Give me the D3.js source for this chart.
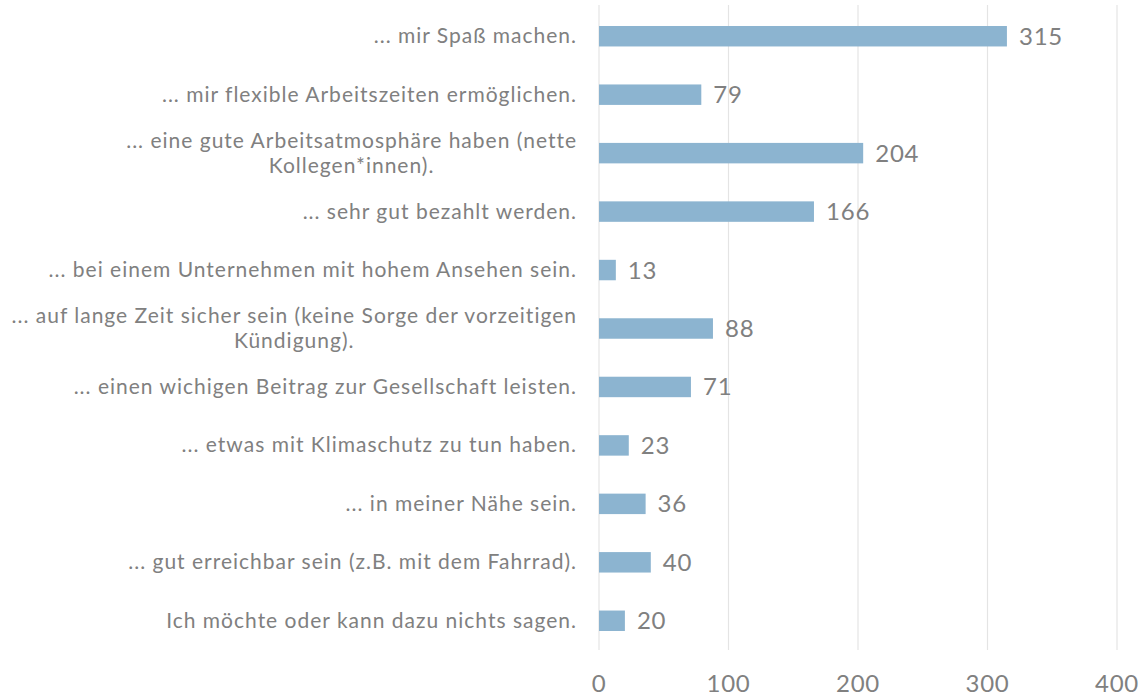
<!DOCTYPE html>
<html>
<head>
<meta charset="utf-8">
<script src="https://cdn.jsdelivr.net/npm/d3@7"></script>
<style>
  body { margin: 0; background: #fff; }
  text { font-family: Lato, sans-serif; fill: #808080; }
</style>
</head>
<body>
<script>
var categories = [
  ['... mir Spaß machen.'],
  ['... mir flexible Arbeitszeiten ermöglichen.'],
  ['... eine gute Arbeitsatmosphäre haben (nette', 'Kollegen*innen).'],
  ['... sehr gut bezahlt werden.'],
  ['... bei einem Unternehmen mit hohem Ansehen sein.'],
  ['... auf lange Zeit sicher sein (keine Sorge der vorzeitigen', 'Kündigung).'],
  ['... einen wichigen Beitrag zur Gesellschaft leisten.'],
  ['... etwas mit Klimaschutz zu tun haben.'],
  ['... in meiner Nähe sein.'],
  ['... gut erreichbar sein (z.B. mit dem Fahrrad).'],
  ['Ich möchte oder kann dazu nichts sagen.']
]
var values = [315, 79, 204, 166, 13, 88, 71, 23, 36, 40, 20]
var ticks = [0, 100, 200, 300, 400]

var width = 1147
var height = 697
var plotLeft = 599, plotRight = 1117, plotTop = 7, plotBottom = 650

var svg = d3.select('body').append('svg')
  .attr('width', width)
  .attr('height', height)

var x = d3.scaleLinear().domain([0, 400]).range([plotLeft, plotRight])
var y = d3.scaleBand().domain(d3.range(categories.length))
  .range([plotTop, plotBottom]).paddingInner(0.65).paddingOuter(0.325)

// gridlines
svg.selectAll('.grid')
  .data(ticks)
  .enter().append('line')
  .attr('x1', d => x(d)).attr('x2', d => x(d))
  .attr('y1', 5).attr('y2', plotBottom)
  .attr('stroke', '#e4e4e4')
  .attr('stroke-width', 1.2)

// tick labels
svg.selectAll('.tick')
  .data(ticks)
  .enter().append('text')
  .attr('x', d => x(d))
  .attr('y', 692)
  .attr('text-anchor', 'middle')
  .style('font-size', '24px')
  .style('letter-spacing', '0.8px')
  .text(d => d)

// bars
svg.selectAll('.bar')
  .data(values)
  .enter().append('rect')
  .attr('x', x(0))
  .attr('y', (d, i) => y(i))
  .attr('width', d => x(d) - x(0))
  .attr('height', y.bandwidth())
  .attr('fill', '#8cb4d0')

// value labels
svg.selectAll('.val')
  .data(values)
  .enter().append('text')
  .attr('x', d => x(d) + 12)
  .attr('y', (d, i) => y(i) + y.bandwidth() / 2 + 8.5)
  .style('font-size', '24px')
  .style('letter-spacing', '0.8px')
  .text(d => d)

// category labels
var lineH = 25
var labelX = 577
categories.forEach(function (lines, i) {
  var cy = y(i) + y.bandwidth() / 2
  var g = svg.append('text')
    .style('font-size', '21px')
    .style('letter-spacing', '1px')
  var y0 = cy - (lines.length - 1) * lineH / 2 + 7
  if (lines.length === 1) {
    g.attr('x', labelX).attr('y', y0).attr('text-anchor', 'end').text(lines[0])
  } else {
    // multi-line: block right-aligned, lines centred in block
    var t0 = g.append('tspan').attr('x', labelX).attr('y', y0).attr('text-anchor', 'end').text(lines[0])
    var w = t0.node().getComputedTextLength()
    lines.slice(1).forEach(function (s, j) {
      g.append('tspan').attr('x', labelX - w / 2).attr('y', y0 + (j + 1) * lineH)
        .attr('text-anchor', 'middle').text(s)
    })
  }
})
</script>
</body>
</html>
